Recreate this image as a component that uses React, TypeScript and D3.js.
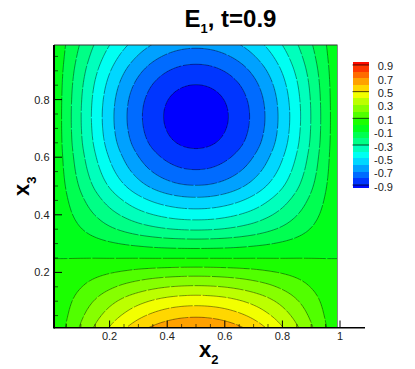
import * as d3 from "d3";

const width = 415;
const height = 369;

// E1 on a 0.05 grid, rows run from x3=0 upward, columns from x2=0 to x2=1
const gridStep = 0.05;
const fieldRows = [
  [0, .111, .219, .322, .417, .502, .574, .633, .675, .701, .71, .701, .675, .633, .574, .502, .417, .322, .219, .111, 0],
  [0, .091, .181, .266, .345, .414, .474, .522, .557, .579, .586, .579, .557, .522, .474, .414, .345, .266, .181, .091, 0],
  [0, .072, .142, .208, .27, .325, .371, .409, .437, .453, .459, .453, .437, .409, .371, .325, .27, .208, .142, .072, 0],
  [0, .049, .096, .142, .183, .221, .252, .278, .297, .308, .312, .308, .297, .278, .252, .221, .183, .142, .096, .049, 0],
  [0, .025, .049, .072, .093, .112, .129, .142, .151, .157, .159, .157, .151, .142, .129, .112, .093, .072, .049, .025, 0],
  [0, -.001, -.001, -.001, -.002, -.002, -.002, -.003, -.003, -.003, -.003, -.003, -.003, -.003, -.002, -.002, -.002, -.001, -.001, -.001, 0],
  [0, -.023, -.046, -.068, -.088, -.106, -.121, -.134, -.143, -.148, -.15, -.148, -.143, -.134, -.121, -.106, -.088, -.068, -.046, -.023, 0],
  [0, -.048, -.095, -.14, -.182, -.218, -.25, -.275, -.294, -.305, -.309, -.305, -.294, -.275, -.25, -.218, -.182, -.14, -.095, -.048, 0],
  [0, -.07, -.138, -.203, -.263, -.316, -.362, -.398, -.425, -.442, -.447, -.442, -.425, -.398, -.362, -.316, -.263, -.203, -.138, -.07, 0],
  [0, -.089, -.177, -.26, -.337, -.405, -.464, -.511, -.545, -.566, -.573, -.566, -.545, -.511, -.464, -.405, -.337, -.26, -.177, -.089, 0],
  [0, -.108, -.215, -.316, -.409, -.491, -.562, -.619, -.661, -.687, -.695, -.687, -.661, -.619, -.562, -.491, -.409, -.316, -.215, -.108, 0],
  [0, -.123, -.244, -.358, -.464, -.558, -.638, -.703, -.75, -.78, -.789, -.78, -.75, -.703, -.638, -.558, -.464, -.358, -.244, -.123, 0],
  [0, -.134, -.266, -.391, -.507, -.609, -.697, -.768, -.82, -.852, -.862, -.852, -.82, -.768, -.697, -.609, -.507, -.391, -.266, -.134, 0],
  [0, -.144, -.285, -.418, -.542, -.651, -.745, -.821, -.876, -.91, -.921, -.91, -.876, -.821, -.745, -.651, -.542, -.418, -.285, -.144, 0],
  [0, -.149, -.294, -.432, -.56, -.673, -.77, -.848, -.905, -.941, -.952, -.941, -.905, -.848, -.77, -.673, -.56, -.432, -.294, -.149, 0],
  [0, -.15, -.296, -.436, -.564, -.678, -.776, -.855, -.912, -.948, -.96, -.948, -.912, -.855, -.776, -.678, -.564, -.436, -.296, -.15, 0],
  [0, -.147, -.291, -.428, -.554, -.667, -.763, -.84, -.897, -.932, -.943, -.932, -.897, -.84, -.763, -.667, -.554, -.428, -.291, -.147, 0],
  [0, -.141, -.279, -.41, -.53, -.638, -.73, -.804, -.858, -.891, -.902, -.891, -.858, -.804, -.73, -.638, -.53, -.41, -.279, -.141, 0],
  [0, -.131, -.259, -.38, -.492, -.592, -.677, -.746, -.796, -.827, -.837, -.827, -.796, -.746, -.677, -.592, -.492, -.38, -.259, -.131, 0],
  [0, -.117, -.232, -.341, -.442, -.532, -.608, -.67, -.715, -.743, -.752, -.743, -.715, -.67, -.608, -.532, -.442, -.341, -.232, -.117, 0],
  [0, -.103, -.204, -.3, -.388, -.467, -.534, -.588, -.628, -.652, -.66, -.652, -.628, -.588, -.534, -.467, -.388, -.3, -.204, -.103, 0],
];

const levels = [-.9, -.8, -.7, -.6, -.5, -.4, -.3, -.2, -.1, 0, .1, .2, .3, .4, .5, .6, .7, .8, .9];
const legendTicks = [.9, .7, .5, .3, .1, -.1, -.3, -.5, -.7, -.9];
const legendLines = [.9, .5, .1, -.3, -.9];
const axisTicks = [.2, .4, .6, .8];
const xMajor = [...axisTicks, 1];
const minorTicks = [.05, .1, .15, .25, .3, .35, .45, .5, .55, .65, .7, .75, .85, .9, .95];

const xScale = d3.scaleLinear().domain([0, 1]).range([52, 340]);
const yScale = d3.scaleLinear().domain([0, 1]).range([330, 42]);
const legendScale = d3.scaleLinear().domain([-1, 1]).range([191.7, 58.3]);
const colorScale = d3
  .scaleLinear<string>()
  .domain([-.95, -.475, 0, .475, .95])
  .range(["#0000ff", "#00ffff", "#00ff00", "#ffff00", "#ff0000"]);

const plot = { left: 54, right: 337.5, top: 45, bottom: 327.5 };

const fmt = (v: number) => String(+v.toFixed(1));

// cubic resample along one line, only so the drawn contours come out round and not faceted
const refineLine = (line: number[], k: number) => {
  const out: number[] = [];
  const n = line.length;
  const at = (i: number) =>
    i < 0 ? 2 * line[0] - line[1] : i >= n ? 2 * line[n - 1] - line[n - 2] : line[i];
  for (let i = 0; i < n - 1; i++) {
    for (let s = 0; s < k; s++) {
      const t = s / k;
      const [a, b, c, d] = [at(i - 1), at(i), at(i + 1), at(i + 2)];
      out.push(
        b + 0.5 * t * (c - a + t * (2 * a - 5 * b + 4 * c - d + t * (3 * (b - c) + d - a)))
      );
    }
  }
  out.push(line[n - 1]);
  return out;
};

const refine = 5;
const wide = fieldRows.map((r) => refineLine(r, refine));
const fine = d3.transpose(d3.transpose(wide).map((c) => refineLine(c as number[], refine)));

export default function App() {
  const cols = fine[0].length;
  const rows = fine.length;
  const contours = d3.contours().size([cols, rows]).thresholds(levels)((fine as number[][]).flat());

  // d3 puts grid value i at coordinate i+0.5
  const ringLine = d3
    .line<[number, number]>()
    .x((p) => xScale(((p[0] - 0.5) * gridStep) / refine))
    .y((p) => yScale(((p[1] - 0.5) * gridStep) / refine));

  const paths = contours
    .filter((c) => c.coordinates.length > 0)
    .map((c) => ({
      value: c.value,
      d: c.coordinates
        .flat()
        .map((ring) => ringLine(ring as [number, number][]) + "Z")
        .join(""),
    }));

  const legendEdges = [-.95, ...levels, .95];

  return (
    <svg
      width={width}
      height={height}
      style={{ position: "absolute", left: 0, top: 0, background: "#fff" }}
      fontFamily="'Liberation Sans', Arial, sans-serif"
    >
      <defs>
        <clipPath id="plotClip">
          <rect x={plot.left} y={plot.top} width={plot.right - plot.left} height={plot.bottom - plot.top} />
        </clipPath>
      </defs>

      <g clipPath="url(#plotClip)">
        <rect x={plot.left} y={plot.top} width={plot.right - plot.left} height={plot.bottom - plot.top} fill={colorScale(-.95)} />
        {paths.map((p) => (
          <path key={p.value} d={p.d} fill={colorScale(p.value + .05)} fillRule="evenodd" shapeRendering="crispEdges" />
        ))}
        {paths.map((p) => (
          <path key={p.value} d={p.d} fill="none" stroke="#000" strokeOpacity={0.6} strokeWidth={0.7} strokeDasharray="22 1.5" />
        ))}
      </g>

      {/* frame */}
      <line x1={plot.left} x2={plot.right} y1={plot.top} y2={plot.top} stroke="#333" strokeWidth={1} />
      <line x1={plot.right} x2={plot.right} y1={plot.top} y2={plot.bottom} stroke="#888" strokeWidth={1} />
      <line x1={plot.left} x2={plot.left} y1={plot.top} y2={plot.bottom + 1} stroke="#000" strokeWidth={2} />
      <line x1={plot.left} x2={365} y1={plot.bottom + 0.3} y2={plot.bottom + 0.3} stroke="#000" strokeWidth={1.5} />

      {/* ticks */}
      {xMajor.map((t) => (
        <line key={t} x1={xScale(t)} x2={xScale(t)} y1={plot.bottom} y2={plot.bottom - 7} stroke="#000" strokeWidth={1} />
      ))}
      {minorTicks.map((t) => (
        <line key={t} x1={xScale(t)} x2={xScale(t)} y1={plot.bottom} y2={plot.bottom - 3.5} stroke="#000" strokeOpacity={0.8} strokeWidth={0.8} />
      ))}
      {axisTicks.map((t) => (
        <line key={t} x1={plot.left} x2={plot.left + 8} y1={yScale(t)} y2={yScale(t)} stroke="#000" strokeWidth={1} />
      ))}
      {minorTicks.map((t) => (
        <line key={t} x1={plot.left} x2={plot.left + 4} y1={yScale(t)} y2={yScale(t)} stroke="#000" strokeOpacity={0.8} strokeWidth={0.8} />
      ))}

      {xMajor.map((t) => (
        <text key={t} x={xScale(t)} y={340} textAnchor="middle" fontSize={11} fill="#222">
          {fmt(t)}
        </text>
      ))}
      {axisTicks.map((t) => (
        <text key={t} x={49.5} y={yScale(t) + 4} textAnchor="end" fontSize={11} fill="#222">
          {fmt(t)}
        </text>
      ))}

      {/* legend */}
      {legendEdges.slice(0, -1).map((lo, i) => {
        const hi = legendEdges[i + 1];
        return (
          <rect
            key={lo}
            x={352.5}
            width={16.5}
            y={legendScale(hi)}
            height={legendScale(lo) - legendScale(hi)}
            fill={colorScale((lo + hi) / 2)}
            shapeRendering="crispEdges"
          />
        );
      })}
      {legendLines.map((v) => (
        <line key={v} x1={352.5} x2={369} y1={legendScale(v)} y2={legendScale(v)} stroke="#000" strokeOpacity={0.7} strokeWidth={1} />
      ))}
      {legendTicks.map((v) => (
        <text key={v} x={393} y={legendScale(v) + 5.5} textAnchor="end" fontSize={11} fill="#222">
          {fmt(v)}
        </text>
      ))}

      {/* titles */}
      <text x={184.5} y={27} fontSize={24} fontWeight="bold" fill="#000">
        E<tspan fontSize={13} dy={6}>1</tspan>
        <tspan dy={-6}>, t=0.9</tspan>
      </text>
      <text x={199} y={357} fontSize={22} fontWeight="bold" fill="#000">
        x<tspan fontSize={13} dy={7}>2</tspan>
      </text>
      <text transform="translate(29,196) rotate(-90)" fontSize={22} fontWeight="bold" fill="#000">
        x<tspan fontSize={13} dy={7}>3</tspan>
      </text>
    </svg>
  );
}
